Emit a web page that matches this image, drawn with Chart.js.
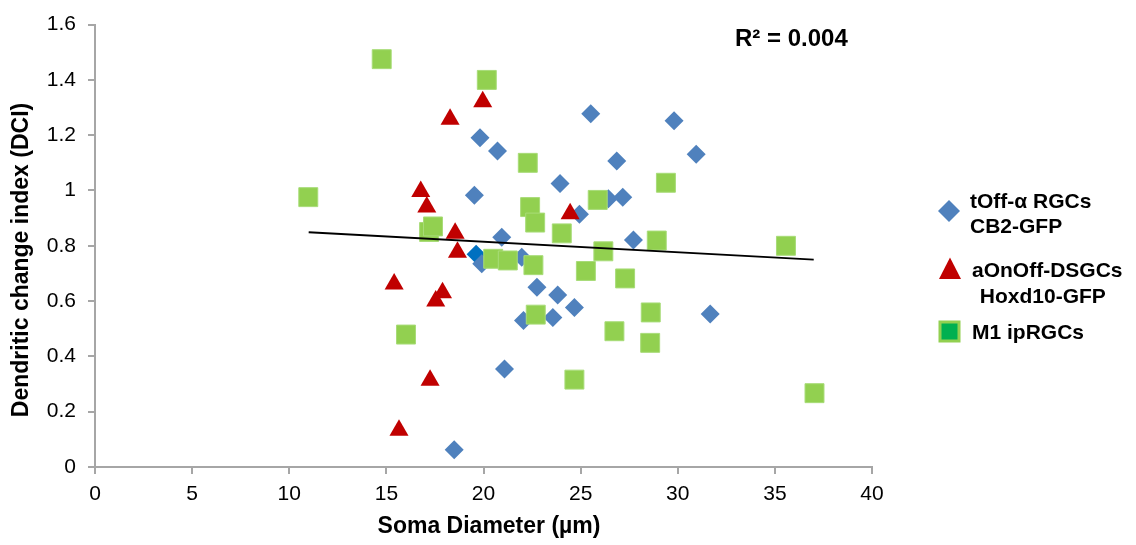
<!DOCTYPE html>
<html>
<head>
<meta charset="utf-8">
<script src="https://cdn.jsdelivr.net/npm/chart.js@4"></script>
<style>
html,body{margin:0;padding:0;background:#fff;}
#wrap{position:relative;width:1136px;height:545px;}
</style>
</head>
<body>
<div id="wrap"><canvas id="c"></canvas></div>
<script>
// ---- data ----
const blueX = [25.52, 29.81, 30.95, 26.86, 23.94, 26.43, 27.17, 24.94, 27.72, 19.82, 20.72, 19.53, 20.94, 19.62, 19.91, 21.97, 22.75, 23.82, 24.68, 23.57, 22.06, 21.08, 18.49, 31.67];
const blueY = [1.278, 1.252, 1.131, 1.107, 1.025, 0.970, 0.976, 0.914, 0.821, 1.191, 1.143, 0.983, 0.831, 0.769, 0.735, 0.759, 0.650, 0.622, 0.577, 0.541, 0.530, 0.354, 0.062, 0.553];
const redX = [19.96, 18.28, 16.77, 17.08, 18.54, 18.66, 24.46, 15.40, 17.89, 17.54, 17.25, 15.65];
const redY = [1.321, 1.258, 0.996, 0.940, 0.845, 0.777, 0.916, 0.662, 0.630, 0.600, 0.314, 0.133];
const greenX = [14.76, 20.17, 10.98, 17.2, 17.4, 22.28, 22.4, 22.66, 20.5, 21.25, 22.57, 24.03, 25.88, 29.39, 26.17, 25.27, 27.29, 28.92, 35.57, 28.61, 28.58, 37.04, 16.01, 22.69, 24.68, 26.74];
const greenY = [1.475, 1.40, 0.976, 0.85, 0.87, 1.10, 0.94, 0.884, 0.753, 0.747, 0.73, 0.845, 0.966, 1.028, 0.78, 0.709, 0.682, 0.819, 0.80, 0.559, 0.449, 0.267, 0.479, 0.551, 0.316, 0.491];
const trendX = [11, 37];
const trendY = [0.849, 0.750];
const seriesNames = [['tOff-α RGCs', 'CB2-GFP'], ['aOnOff-DSGCs', ' Hoxd10-GFP'], ['M1 ipRGCs']];
const xTickLabels = ['0', '5', '10', '15', '20', '25', '30', '35', '40'];
const yTickLabels = ['0', '0.2', '0.4', '0.6', '0.8', '1', '1.2', '1.4', '1.6'];
const xTitle = 'Soma Diameter (µm)';
const yTitle = 'Dendritic change index (DCI)';
const r2Text = 'R² = 0.004';

// ---- build ----
const pts = (xs, ys) => xs.map((x, i) => ({x: x, y: ys[i]}));
const FONT = '"Liberation Sans", Arial, sans-serif';
const AXIS = '#a6a6a6';
const BLUE = '#4f81bd', RED = '#c00000', GREEN = '#92d050';
const highlightBlue = 13;

const overlay = {
  id: 'overlay',
  afterDraw(chart) {
    const ctx = chart.ctx;
    ctx.save();
    ctx.fillStyle = '#000';
    // axis titles
    ctx.font = 'bold 23px ' + FONT;
    ctx.textAlign = 'center';
    ctx.textBaseline = 'middle';
    ctx.fillText(xTitle, 489, 527);
    ctx.save();
    ctx.translate(22, 260);
    ctx.rotate(-Math.PI / 2);
    ctx.fillText(yTitle, 0, 0);
    ctx.restore();
    // R² label
    ctx.font = 'bold 24px ' + FONT;
    ctx.textAlign = 'left';
    ctx.fillText(r2Text, 735, 39);
    // legend markers
    ctx.fillStyle = BLUE;
    ctx.beginPath();
    ctx.moveTo(949, 200); ctx.lineTo(960, 211); ctx.lineTo(949, 222); ctx.lineTo(938, 211);
    ctx.closePath(); ctx.fill();
    ctx.fillStyle = RED;
    ctx.beginPath();
    ctx.moveTo(950, 257.5); ctx.lineTo(961, 279); ctx.lineTo(939, 279);
    ctx.closePath(); ctx.fill();
    ctx.fillStyle = '#00b050';
    ctx.strokeStyle = GREEN;
    ctx.lineWidth = 3;
    ctx.fillRect(940, 322, 19, 19);
    ctx.strokeRect(940, 322, 19, 19);
    // legend texts
    ctx.font = 'bold 21px ' + FONT;
    ctx.fillStyle = '#000';
    ctx.fillText(seriesNames[0][0], 970, 202);
    ctx.fillText(seriesNames[0][1], 970, 227);
    ctx.fillText(seriesNames[1][0], 972, 271);
    ctx.fillText(seriesNames[1][1], 974, 297);
    ctx.fillText(seriesNames[2][0], 972, 333);
    ctx.restore();
  }
};

new Chart(document.getElementById('c'), {
  type: 'scatter',
  data: {
    datasets: [
      {
        type: 'line', label: 'trend', data: pts(trendX, trendY),
        borderColor: '#000', borderWidth: 2, pointRadius: 0, fill: false, order: 0
      },
      {
        label: seriesNames[2].join(' '), data: pts(greenX, greenY),
        pointStyle: 'rect', pointRadius: 13.4, backgroundColor: GREEN,
        borderColor: '#a8dc78', borderWidth: 1, order: 1
      },
      {
        label: seriesNames[1].join(' '), data: pts(redX, redY),
        pointStyle: 'triangle', pointRadius: 11, backgroundColor: RED,
        borderColor: RED, borderWidth: 0, order: 2
      },
      {
        label: seriesNames[0].join(' '), data: pts(blueX, blueY),
        pointStyle: 'rectRot', pointRadius: 9.5,
        backgroundColor: ctx => ctx.dataIndex === highlightBlue ? '#0070c0' : BLUE,
        borderWidth: 0, order: 3
      }
    ]
  },
  options: {
    responsive: true,
    maintainAspectRatio: false,
    animation: false,
    events: [],
    layout: {padding: {top: 20, right: 264, left: 0, bottom: 0}},
    plugins: {legend: {display: false}, tooltip: {enabled: false}},
    scales: {
      x: {
        type: 'linear', min: 0, max: 40,
        afterFit: s => { s.height = 78; },
        ticks: {
          stepSize: 5, color: '#000', padding: 8,
          font: {family: FONT, size: 21},
          callback: (v) => xTickLabels[Math.round(v / 5)] ?? ''
        },
        grid: {drawOnChartArea: false, drawTicks: true, tickLength: 7, color: AXIS, lineWidth: 2},
        border: {display: true, color: AXIS, width: 2}
      },
      y: {
        type: 'linear', min: 0, max: 1.6,
        afterFit: s => { s.width = 95; },
        ticks: {
          stepSize: 0.2, color: '#000', padding: 12,
          font: {family: FONT, size: 21},
          callback: (v) => yTickLabels[Math.round(v / 0.2)] ?? ''
        },
        grid: {drawOnChartArea: false, drawTicks: true, tickLength: 7, color: AXIS, lineWidth: 2},
        border: {display: true, color: AXIS, width: 2}
      }
    }
  },
  plugins: [overlay]
});
</script>
</body>
</html>
